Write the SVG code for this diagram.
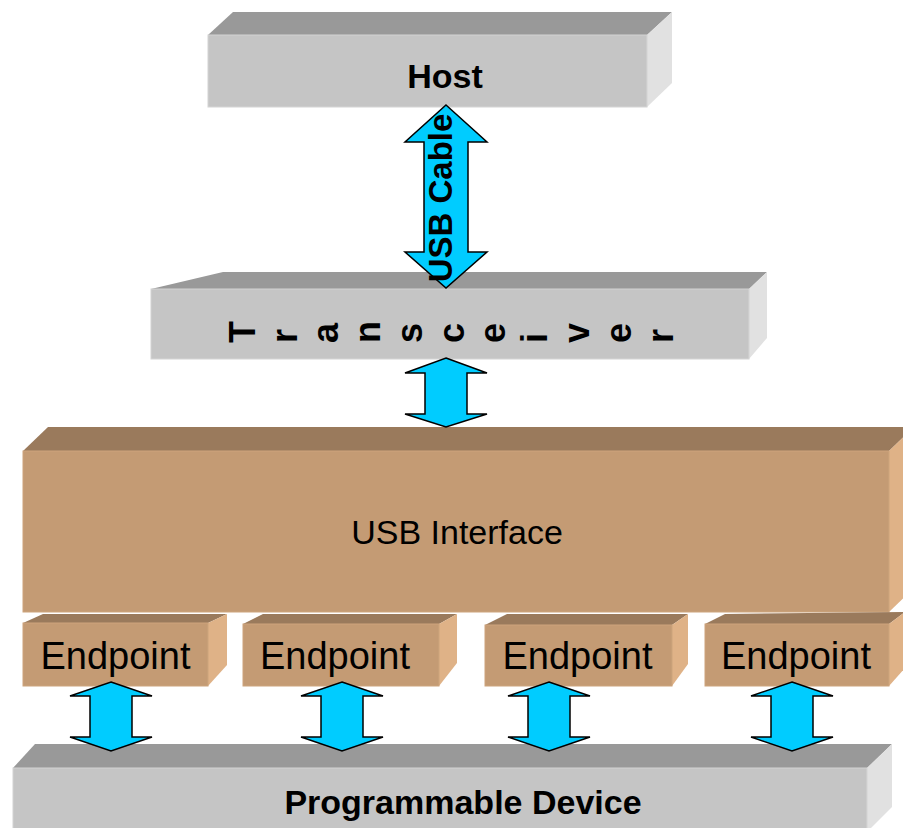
<svg xmlns="http://www.w3.org/2000/svg" width="903" height="828" viewBox="0 0 903 828">
  <style>
    .g-top { fill: #999999; }
    .g-front { fill: #C5C5C5; stroke: #D4D4D4; stroke-width: 1; }
    .g-side { fill: #E1E1E1; }
    .t-top { fill: #9A7A5C; }
    .t-front { fill: #C49B74; stroke: #CDA47D; stroke-width: 1; }
    .t-side { fill: #DFB287; }
    .arrow { fill: #00CCFF; stroke: #000000; stroke-width: 1.5; stroke-linejoin: miter; }
    .bold { font-family: "Liberation Sans", Arial, sans-serif; font-weight: bold; fill: #000000; }
    .plain { font-family: "Liberation Sans", Arial, sans-serif; fill: #000000; }
  </style>
  <rect width="903" height="828" fill="#FFFFFF"/>

  <!-- Host -->
  <g id="host">
    <polygon class="g-top" points="208,35 233,12 672,12 647,35"/>
    <polygon class="g-side" points="647,35 672,12 672,83 647,107"/>
    <rect class="g-front" x="208" y="35" width="439" height="72"/>
    <text class="bold" x="445" y="88" font-size="34" text-anchor="middle">Host</text>
  </g>

  <!-- Transceiver: one rotated letter per line -->
  <g id="transceiver">
    <polygon class="g-top" points="151,289 223,272 767,272 749,289"/>
    <polygon class="g-side" points="749,289 767,272 767,338 749,359"/>
    <rect class="g-front" x="151" y="289" width="598" height="70"/>
    <g class="bold" font-size="36">
      <text transform="translate(255,343) rotate(-90)">T</text>
      <text transform="translate(297,343) rotate(-90)">r</text>
      <text transform="translate(338,343) rotate(-90)">a</text>
      <text transform="translate(380,343) rotate(-90)">n</text>
      <text transform="translate(422,343) rotate(-90)">s</text>
      <text transform="translate(464,343) rotate(-90)">c</text>
      <text transform="translate(505,343) rotate(-90)">e</text>
      <text transform="translate(547,343) rotate(-90)">i</text>
      <text transform="translate(589,343) rotate(-90)">v</text>
      <text transform="translate(631,343) rotate(-90)">e</text>
      <text transform="translate(673,343) rotate(-90)">r</text>
    </g>
  </g>

  <!-- USB Interface -->
  <g id="usb-interface">
    <polygon class="t-top" points="23,451 48,427 914,427 889,451"/>
    <polygon class="t-side" points="889,451 914,427 914,588 889,612"/>
    <rect class="t-front" x="23" y="451" width="866" height="161"/>
    <text class="plain" x="457" y="544" font-size="34" text-anchor="middle">USB Interface</text>
  </g>

  <!-- Endpoints -->
  <g id="endpoint-1">
    <polygon class="t-top" points="23,623 43,614 227,614 208,623"/>
    <polygon class="t-side" points="208,623 227,614 227,665 208,686"/>
    <rect class="t-front" x="23" y="623" width="185" height="63"/>
    <text class="plain" x="115.5" y="669" font-size="38" text-anchor="middle">Endpoint</text>
  </g>
  <g id="endpoint-2">
    <polygon class="t-top" points="243,624 263,614 457,614 439,624"/>
    <polygon class="t-side" points="439,624 457,614 457,663 439,686"/>
    <rect class="t-front" x="243" y="624" width="196" height="62"/>
    <text class="plain" x="335" y="669" font-size="38" text-anchor="middle">Endpoint</text>
  </g>
  <g id="endpoint-3">
    <polygon class="t-top" points="485,625 507,614 688,614 672,625"/>
    <polygon class="t-side" points="672,625 688,614 688,664 672,686"/>
    <rect class="t-front" x="485" y="625" width="187" height="61"/>
    <text class="plain" x="577.5" y="669" font-size="38" text-anchor="middle">Endpoint</text>
  </g>
  <g id="endpoint-4">
    <polygon class="t-top" points="705,624 725,614 905,612 889,624"/>
    <polygon class="t-side" points="889,624 905,612 905,668 889,686"/>
    <rect class="t-front" x="705" y="624" width="184" height="62"/>
    <text class="plain" x="796" y="669" font-size="38" text-anchor="middle">Endpoint</text>
  </g>

  <!-- Programmable Device -->
  <g id="programmable-device">
    <polygon class="g-top" points="13,768 35,744 892,744 867,768"/>
    <polygon class="g-side" points="867,768 892,744 892,807 867,832"/>
    <rect class="g-front" x="13" y="768" width="854" height="70"/>
    <text class="bold" x="463" y="814" font-size="34" text-anchor="middle">Programmable Device</text>
  </g>

  <!-- Connectors: two-headed block arrows -->
  <g id="connectors">
    <polygon class="arrow" points="446,105 487,142 468,142 468,252 487,252 446,288 405,252 424,252 424,142 405,142"/>
    <polygon class="arrow" points="446,358 487,373 467,373 467,414 487,414 446,427 405,414 425,414 425,373 405,373"/>
    <polygon class="arrow" points="111,682 152,696 132,696 132,737 152,737 111,751 70,737 90,737 90,696 70,696"/>
    <polygon class="arrow" points="342,682 383,696 363,696 363,737 383,737 342,751 301,737 321,737 321,696 301,696"/>
    <polygon class="arrow" points="549,682 590,696 570,696 570,737 590,737 549,751 508,737 528,737 528,696 508,696"/>
    <polygon class="arrow" points="792,682 833,696 813,696 813,737 833,737 792,751 751,737 771,737 771,696 751,696"/>
    <text class="bold" transform="translate(452,198) rotate(-90)" font-size="33" text-anchor="middle">USB Cable</text>
  </g>
</svg>
